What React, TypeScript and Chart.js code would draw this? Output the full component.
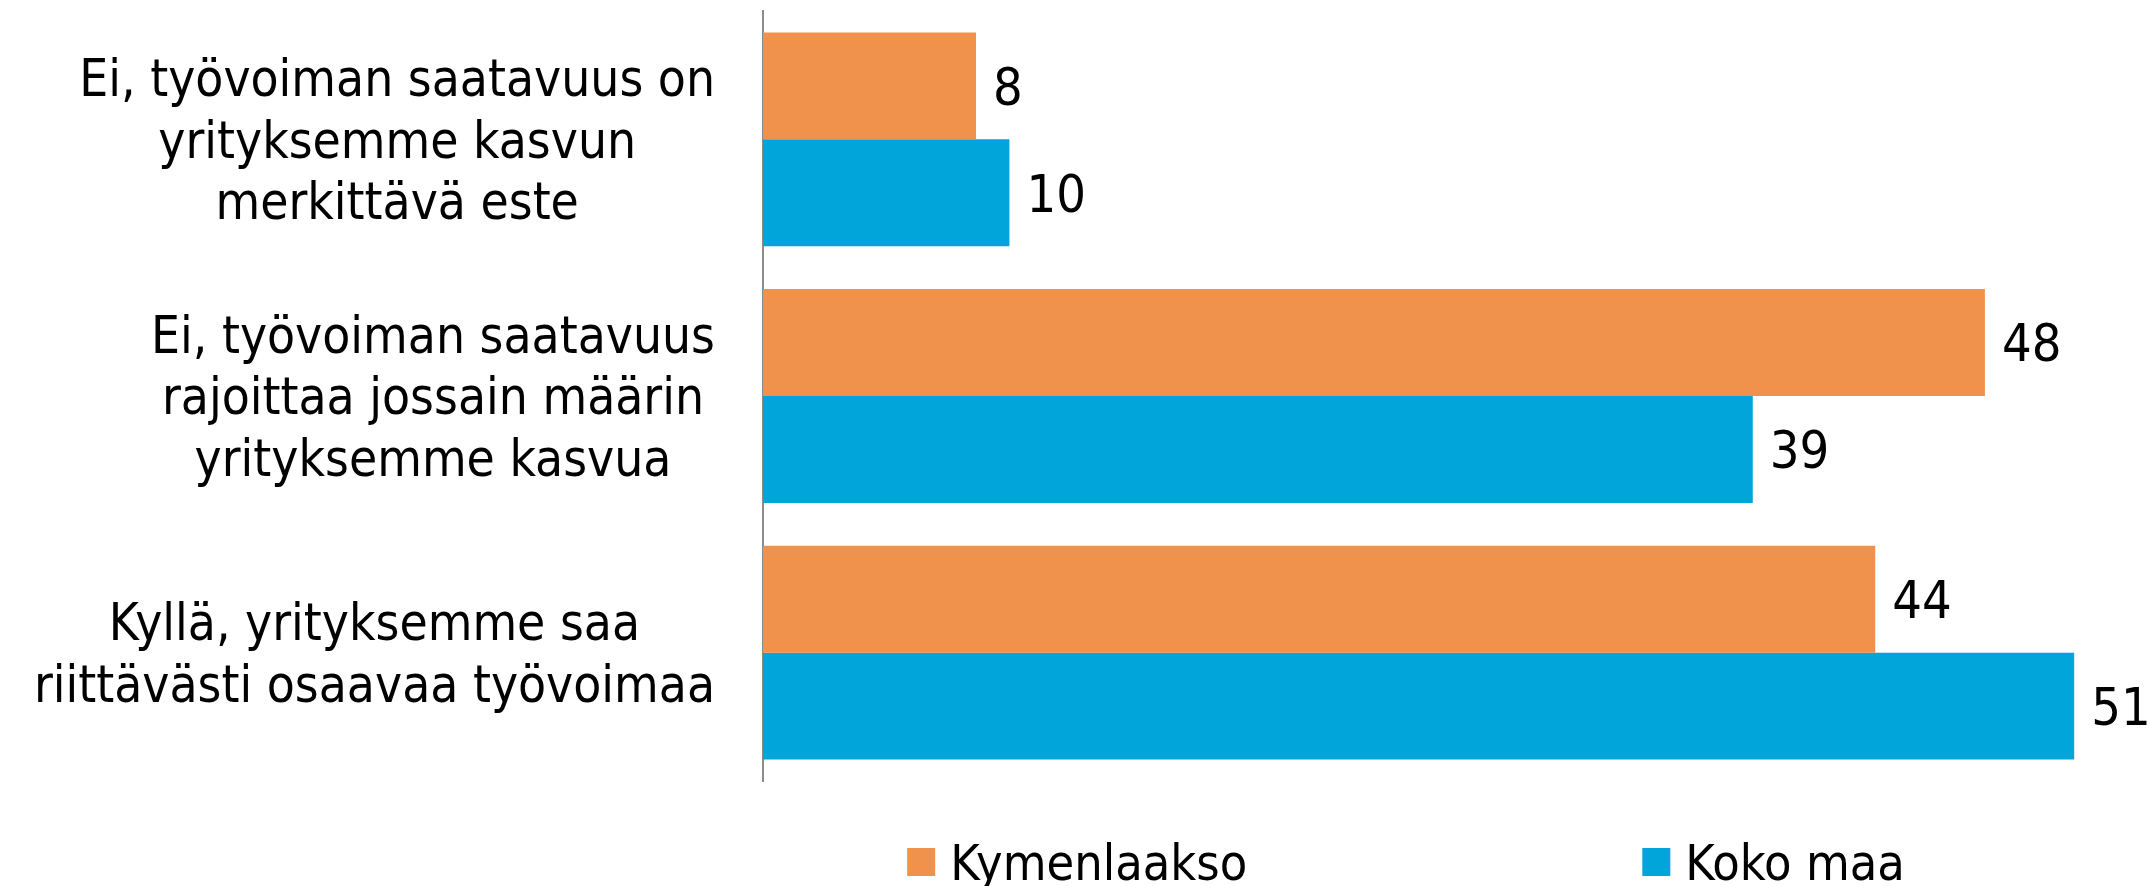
import React, { useEffect, useRef } from "react";
import { Chart, registerables } from "chart.js";

Chart.register(...registerables);

const categories: string[][] = [
  ["Ei, työvoiman saatavuus on", "yrityksemme kasvun", "merkittävä este"],
  ["Ei, työvoiman saatavuus", "rajoittaa jossain määrin", "yrityksemme kasvua"],
  ["Kyllä, yrityksemme saa", "riittävästi osaavaa työvoimaa"],
];
const seriesNames = ["Kymenlaakso", "Koko maa"];
const kymenlaakso = [8.35, 47.9, 43.6];
const kokoMaa = [9.66, 38.8, 51.4];
const colors = ["#F0914C", "#02A5DA"];

const FONT_FAMILY = '"DejaVu Sans Condensed", "DejaVu Sans", sans-serif';
const CAT_FONT = 51;
const VAL_FONT = 52;
const LEG_FONT = 50;

const drawPlugin = {
  id: "customText",
  afterDraw(chart: any) {
    const ctx = chart.ctx as CanvasRenderingContext2D;
    const area = chart.chartArea;
    const yScale = chart.scales.y;
    ctx.save();
    ctx.fillStyle = "#000";

    // category labels: block right-aligned, lines centered
    ctx.font = `${CAT_FONT}px ${FONT_FAMILY}`;
    ctx.textAlign = "center";
    ctx.textBaseline = "alphabetic";
    const lh = 61.6;
    (chart.data.labels as string[][]).forEach((lab, i) => {
      const lines = Array.isArray(lab) ? lab : [lab];
      const w = Math.max(...lines.map((l) => ctx.measureText(l).width));
      const cx = area.left - 48 - w / 2;
      const cy = yScale.getPixelForValue(i);
      lines.forEach((l, j) => {
        ctx.fillText(l, cx, cy + (j - (lines.length - 1) / 2) * lh + CAT_FONT * 0.36);
      });
    });

    // value labels
    ctx.font = `${VAL_FONT}px ${FONT_FAMILY}`;
    ctx.textAlign = "left";
    chart.data.datasets.forEach((ds: any, di: number) => {
      const meta = chart.getDatasetMeta(di);
      meta.data.forEach((bar: any, i: number) => {
        const v = ds.data[i] as number;
        ctx.fillText(String(Math.round(v)), bar.x + 17, bar.y + VAL_FONT * 0.36);
      });
    });

    // legend
    ctx.font = `${LEG_FONT}px ${FONT_FAMILY}`;
    const box = 28;
    const gap = 15;
    const spacing = 395;
    const widths = chart.data.datasets.map((ds: any) => ctx.measureText(ds.label).width);
    const total =
      widths.reduce((a: number, b: number) => a + b, 0) + chart.data.datasets.length * (box + gap) + spacing * (chart.data.datasets.length - 1);
    let x = 1406 - total / 2;
    const cy = 862;
    chart.data.datasets.forEach((ds: any, di: number) => {
      ctx.fillStyle = ds.backgroundColor;
      ctx.fillRect(x, cy - box / 2, box, box);
      ctx.fillStyle = "#000";
      ctx.fillText(ds.label, x + box + gap, cy + LEG_FONT * 0.36);
      x += box + gap + widths[di] + spacing;
    });
    ctx.restore();
  },
};

export default function App() {
  const ref = useRef<HTMLCanvasElement | null>(null);
  useEffect(() => {
    if (!ref.current) return;
    const chart = new Chart(ref.current, {
      type: "bar",
      data: {
        labels: categories,
        datasets: [
          { label: seriesNames[0], data: kymenlaakso, backgroundColor: colors[0] },
          { label: seriesNames[1], data: kokoMaa, backgroundColor: colors[1] },
        ],
      },
      options: {
        indexAxis: "y",
        animation: false,
        responsive: true,
        maintainAspectRatio: false,
        layout: { padding: { top: 11, right: 34, bottom: 105, left: 0 } },
        datasets: { bar: { categoryPercentage: 0.833, barPercentage: 1.0 } },
        plugins: { legend: { display: false }, tooltip: { enabled: false } },
        scales: {
          x: { display: false, min: 0, max: 53, grid: { display: false } },
          y: {
            grid: { display: false, drawTicks: false },
            border: { display: true, color: "#8C8C8C", width: 2 },
            ticks: { display: false },
            afterFit: (s: any) => {
              s.width = 763;
            },
          },
        },
      },
      plugins: [drawPlugin],
    });
    return () => chart.destroy();
  }, []);
  return (
    <div style={{ position: "fixed", left: 0, top: 0, width: 2149, height: 886, background: "#fff" }}>
      <canvas ref={ref} />
    </div>
  );
}
